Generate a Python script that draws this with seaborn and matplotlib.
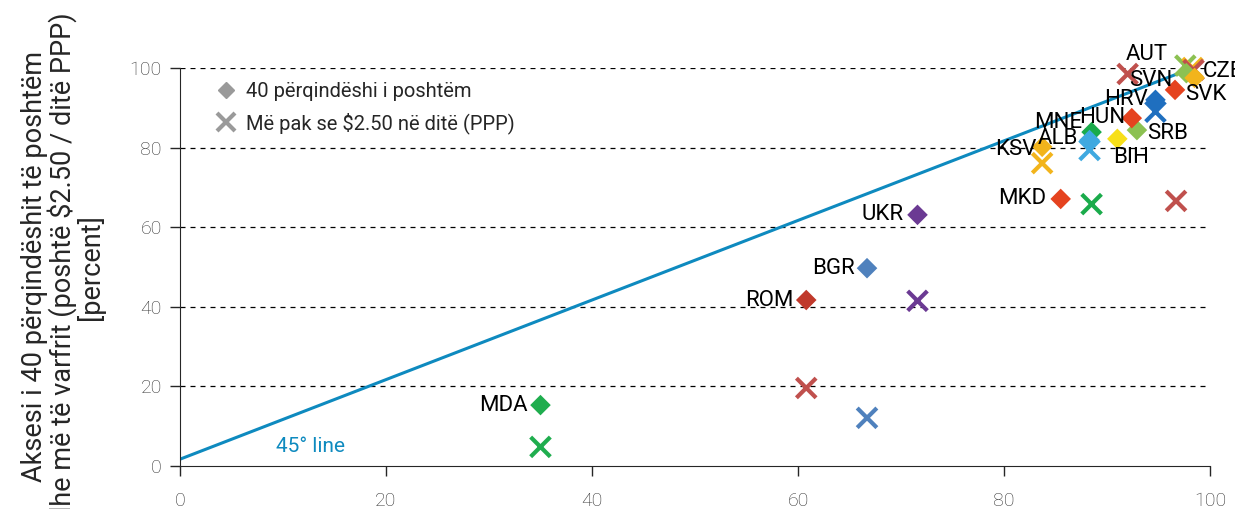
import numpy as np
import pandas as pd
import matplotlib.pyplot as plt
import seaborn as sns
from matplotlib.lines import Line2D

# values
countries = ["MDA", "ROM", "BGR", "UKR", "MKD", "MNE", "KSV", "ALB",
             "BIH", "SRB", "HUN", "HRV", "SVK", "SVN", "CZE", "AUT"]
access_total = [35.0, 60.8, 66.7, 71.6, 85.5, 88.5, 83.7, 88.3,
                91.0, 92.9, 92.4, 94.7, 96.6, 97.7, 98.5, 98.4]
access_bottom40 = [15.3, 41.7, 49.7, 63.1, 67.1, 83.9, 80.2, 81.9,
                   82.2, 84.4, 87.4, 92.0, 94.5, 98.7, 97.5, np.nan]
access_poor = [4.8, 19.6, 12.1, 41.5, np.nan, 65.8, 76.1, 79.4,
               np.nan, np.nan, 98.5, 89.0, 66.6, 100.6, 100.0, 99.5]
access_poor_total = [35.0, 60.8, 66.7, 71.6, np.nan, 88.5, 83.7, 88.3,
                     np.nan, np.nan, 92.0, 94.7, 96.7, 97.6, 98.3, 98.4]
diamond_colors = ["#1fad4e", "#c0392b", "#4f81bd", "#6b3a93", "#e5431f", "#1aab4b",
                  "#f2b41c", "#3fa9e0", "#f7df18", "#8cc152", "#e5431f", "#1f6fbf",
                  "#e5431f", "#8cc152", "#f2b41c", "#e5431f"]
cross_colors = ["#1fad4e", "#c0504d", "#4f81bd", "#6b3a93", "#e5431f", "#1aab4b",
                "#f2b41c", "#3fa9e0", "#f7df18", "#8cc152", "#c0504d", "#1f6fbf",
                "#c0504d", "#8cc152", "#f2b41c", "#c0504d"]
line_x = [0, 100]
line_y = [1.7, 101.7]

legend_labels = ["40 përqindëshi i poshtëm", "Më pak se $2.50 në ditë (PPP)"]
y_label = "Aksesi i 40 përqindëshit të poshtëm\ndhe më të varfrit (poshtë $2.50 / ditë PPP)\n[percent]"

# label offsets in pixels (dx, dy, ha)
label_pos = {
    "MDA": (-13, 0, "right"), "ROM": (-13, 0, "right"), "BGR": (-12, 0, "right"),
    "UKR": (-14, 0, "right"), "MKD": (-14, 0, "right"), "KSV": (-6, -3, "right"),
    "ALB": (-11, 2, "right"), "MNE": (-9, 10, "right"), "HUN": (-7, 1, "right"),
    "HRV": (-8, 0, "right"), "SVK": (10, -5, "left"), "SRB": (10, -3, "left"),
    "BIH": (-4, -19, "left"), "AUT": (-26, 15, "right"), "SVN": (-14, -7, "right"),
    "CZE": (8, 6, "left"),
}

sns.set_style("ticks")
plt.rcParams["font.family"] = ["Roboto", "DejaVu Sans"]

df = pd.DataFrame({"country": countries, "total": access_total,
                   "b40": access_bottom40, "poor": access_poor,
                   "poor_total": access_poor_total})

fig = plt.figure(figsize=(12.35, 5.09), dpi=100)
ax = fig.add_axes([0.1457, 0.0845, 0.8341, 0.7819])

for y in [20, 40, 60, 80, 100]:
    ax.axhline(y, color="black", lw=0.9, ls=(0, (4, 4)), zorder=0)

sns.lineplot(x=line_x, y=line_y, ax=ax, color="#0e8abf", lw=2.2, zorder=1)
ax.text(12.7, 5.0, "45° line", color="#0e8abf", fontsize=15, ha="center", va="center")

sns.scatterplot(data=df, x="poor_total", y="poor", hue="country",
                palette=dict(zip(countries, cross_colors)), marker="x", s=200,
                linewidth=3, legend=False, ax=ax, zorder=3, clip_on=False)
sns.scatterplot(data=df, x="total", y="b40", hue="country",
                palette=dict(zip(countries, diamond_colors)), marker="D", s=110,
                linewidth=0, legend=False, ax=ax, zorder=4, clip_on=False)

for i, c in enumerate(countries):
    if np.isnan(access_bottom40[i]):
        px, py = access_poor_total[i], access_poor[i]
    else:
        px, py = access_total[i], access_bottom40[i]
    dx, dy, ha = label_pos[c]
    ax.annotate(c, (px, py), xytext=(dx, dy), textcoords="offset pixels",
                ha=ha, va="center", fontsize=16, color="black",
                annotation_clip=False, zorder=5)

handles = [Line2D([], [], marker="D", color="#9a9a9a", ls="none", markersize=8),
           Line2D([], [], marker="x", color="#9a9a9a", ls="none", markersize=13,
                  markeredgewidth=3)]
ax.legend(handles, legend_labels, loc="upper left", bbox_to_anchor=(0.015, 1.01),
          frameon=False, fontsize=14.5, handletextpad=0.4, labelspacing=0.55,
          handlelength=1.2)

ax.set_xlim(0, 100)
ax.set_ylim(0, 100)
ax.set_xticks([0, 20, 40, 60, 80, 100])
ax.set_yticks([0, 20, 40, 60, 80, 100])
ax.tick_params(labelsize=14, labelcolor="#333333", length=7, width=1, pad=6)
ax.tick_params(axis="x", pad=12)
for lab in ax.get_xticklabels() + ax.get_yticklabels():
    lab.set_fontweight("light")
ax.set_xlabel("")
ax.set_ylabel(y_label, fontsize=19.5, linespacing=0.95, labelpad=18)
sns.despine(ax=ax)

fig.savefig("out.png", dpi=100)
